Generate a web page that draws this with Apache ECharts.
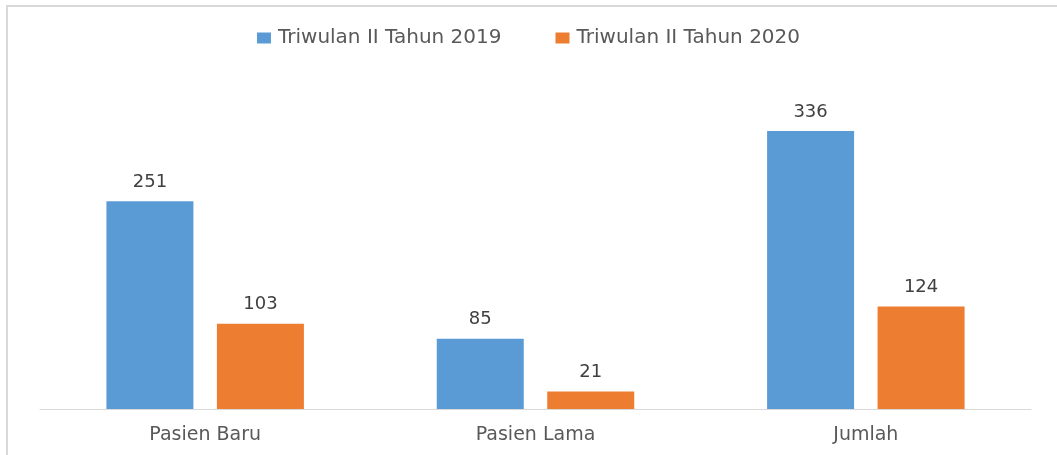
<!DOCTYPE html>
<html>
<head>
<meta charset="utf-8">
<script src="https://cdn.jsdelivr.net/npm/echarts@6/dist/echarts.min.js"></script>
<style>
  html, body { margin: 0; padding: 0; background: #fff; }
  #chart { width: 1057px; height: 455px; }
</style>
</head>
<body>
<div id="chart"></div>
<script>
// 类别与数据
const categories = ["Pasien Baru", "Pasien Lama", "Jumlah"];
const seriesNames = ["Triwulan II Tahun 2019", "Triwulan II Tahun 2020"];
const values2019 = [251, 85, 336];
const values2020 = [103, 21, 124];
const colors = ["#5B9BD5", "#ED7D31"];

const font = "DejaVu Sans";
const myChart = echarts.init(document.getElementById("chart"));

const makeSeries = (name, data, color) => ({
  type: "bar",
  name: name,
  data: data,
  barWidth: 87,
  barGap: "27%",
  itemStyle: { color: color },
  label: {
    show: true,
    position: "top",
    distance: 10,
    color: "#404040",
    fontSize: 18,
    fontFamily: font,
  },
});

const option = {
  backgroundColor: "#fff",
  animation: false,
  color: colors,
  // 外框
  graphic: [
    {
      type: "rect",
      shape: { x: 7, y: 6, width: 1100, height: 500 },
      style: { fill: "none", stroke: "#D9D9D9", lineWidth: 2 },
      silent: true,
    },
  ],
  legend: {
    top: 23,
    left: "center",
    itemWidth: 14,
    itemHeight: 11,
    itemGap: 54,
    icon: "rect",
    textStyle: { color: "#595959", fontSize: 20, fontFamily: font, padding: [0, 0, 0, 2] },
    data: seriesNames,
  },
  grid: { left: 40, right: 26, top: 78, bottom: 46 },
  xAxis: {
    type: "category",
    data: categories,
    axisLine: { show: true, lineStyle: { color: "#D9D9D9", width: 1 } },
    axisTick: { show: false },
    axisLabel: { color: "#595959", fontSize: 19, fontFamily: font, margin: 17 },
  },
  yAxis: {
    type: "value",
    min: 0,
    max: 400,
    show: false,
    splitLine: { show: false },
  },
  series: [
    makeSeries(seriesNames[0], values2019, colors[0]),
    makeSeries(seriesNames[1], values2020, colors[1]),
  ],
};

myChart.setOption(option);
</script>
</body>
</html>
